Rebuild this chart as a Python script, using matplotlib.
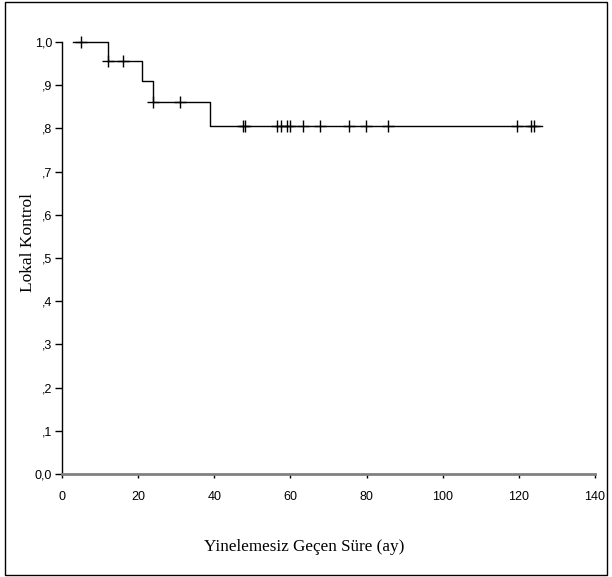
import numpy as np
import matplotlib.pyplot as plt
from matplotlib.patches import Rectangle

# Kaplan-Meier step curve (time in months, survival)
step_times = [3, 12, 21, 24, 39, 126]
step_surv = [1.0, 0.955, 0.910, 0.860, 0.806, 0.806]

# censored observations
censor_times = [5, 12, 16, 24, 31, 47.6, 48.0, 56.6, 57.6, 59.0, 60.0,
                63.4, 67.8, 75.5, 79.8, 85.7, 119.4, 123.1, 124.1]

y_ticks = [0.0, 0.1, 0.2, 0.3, 0.4, 0.5, 0.6, 0.7, 0.8, 0.9, 1.0]
y_ticklabels = ['0,0', ',1', ',2', ',3', ',4', ',5', ',6', ',7', ',8', ',9', '1,0']
x_ticks = [0, 20, 40, 60, 80, 100, 120, 140]

# survival level at each censor time
idx = np.searchsorted(step_times, censor_times, side='right') - 1
censor_surv = np.array(step_surv)[idx]

fig = plt.figure(figsize=(6.12, 5.77), dpi=100)
ax = fig.add_axes([0.1013, 0.1785, 0.8709, 0.7487])

ax.step(step_times, step_surv, where='post', color='black', lw=1, clip_on=False)
ax.plot(censor_times, censor_surv, linestyle='none', marker='+', markersize=9,
        markeredgewidth=1, color='black', clip_on=False)

ax.set_xlim(0, 140)
ax.set_ylim(0, 1.0)
ax.set_xticks(x_ticks)
ax.set_yticks(y_ticks)
ax.set_yticklabels(y_ticklabels)

for s in ['top', 'right']:
    ax.spines[s].set_visible(False)
ax.spines['left'].set_color('black')
ax.spines['left'].set_linewidth(1)
ax.spines['bottom'].set_color('#808080')
ax.spines['bottom'].set_linewidth(2)

ax.tick_params(axis='y', length=5, width=1, pad=2, labelsize=9)
ax.tick_params(axis='x', length=3, width=1, pad=9, labelsize=9)
for lbl in ax.get_xticklabels() + ax.get_yticklabels():
    lbl.set_fontfamily('Liberation Sans')

ax.set_xlabel('Yinelemesiz Geçen Süre (ay)', fontfamily='Liberation Serif',
              fontsize=12.3, va='center')
ax.xaxis.set_label_coords(0.454, -0.169)
ax.set_ylabel('Lokal Kontrol', fontfamily='Liberation Serif', fontsize=12.5,
              va='center')
ax.yaxis.set_label_coords(-0.0647, 0.535)

# outer frame
fig.patches.append(Rectangle((5 / 612, 2 / 577), 602 / 612, 573 / 577,
                             transform=fig.transFigure, fill=False,
                             edgecolor='black', lw=1))

fig.savefig('out.png', dpi=100)
